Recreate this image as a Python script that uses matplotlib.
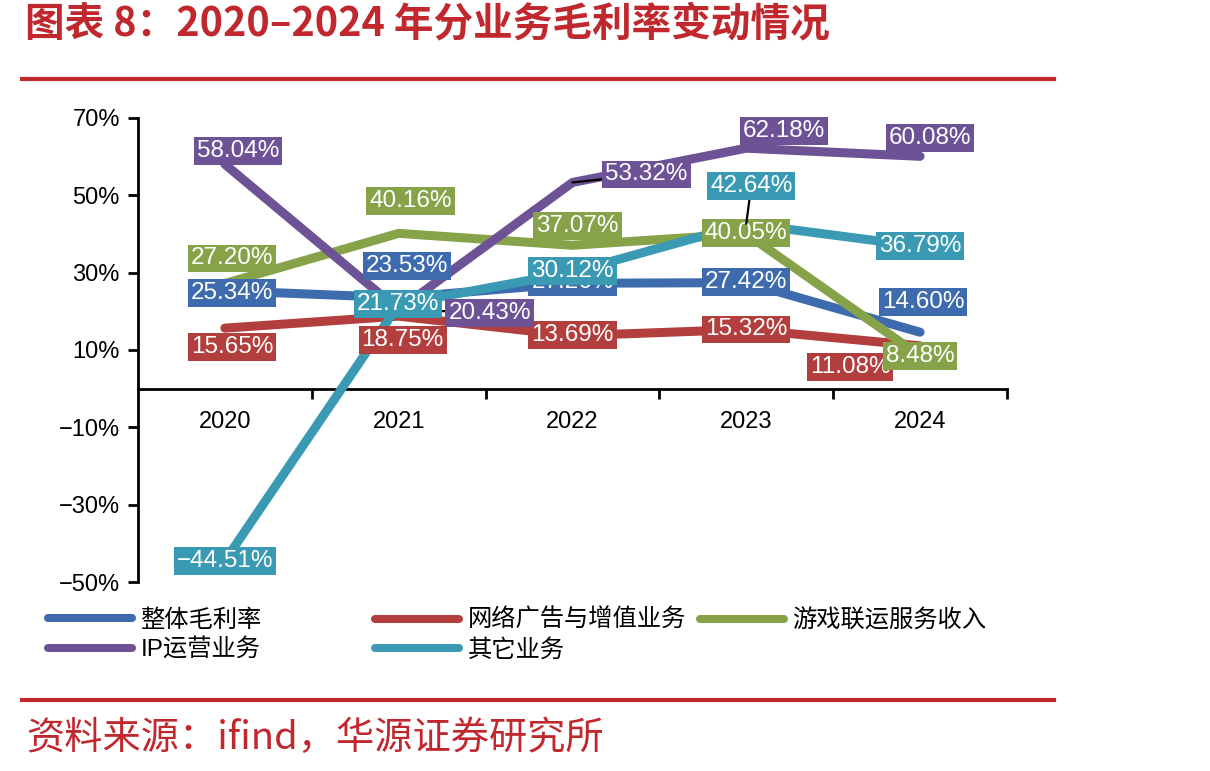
import matplotlib
matplotlib.use("Agg")
import matplotlib.pyplot as plt
from matplotlib.lines import Line2D

plt.rcParams["font.family"] = ["Liberation Sans", "Noto Sans CJK SC"]
plt.rcParams["axes.unicode_minus"] = True

# 数据（%）
years = ["2020", "2021", "2022", "2023", "2024"]
series_names = ["整体毛利率", "网络广告与增值业务", "游戏联运服务收入", "IP运营业务", "其它业务"]
overall = [25.34, 23.53, 27.26, 27.42, 14.60]
ads = [15.65, 18.75, 13.69, 15.32, 11.08]
games = [27.20, 40.16, 37.07, 40.05, 8.48]
ip_ops = [58.04, 20.43, 53.32, 62.18, 60.08]
others = [-44.51, 21.73, 30.12, 42.64, 36.79]
yticks = [-50, -30, -10, 10, 30, 50, 70]

COLORS = ["#3E6BAD", "#B23F3D", "#86A34A", "#6D5296", "#3A9AB4"]
RED = "#C0282E"

# 标签偏移（像素）
OFFSETS = [
    [(7, -2), (8, 32), (0, 1), (0, 1), (3, 30)],
    [(7, -19), (4, -24), (0, 1), (0, 0), (-70, -21)],
    [(7, 25), (12, 32), (5, 19), (0, 1), (0, 0)],
    [(13, 13), (91, -3), (74, 8), (38, 17), (10, 18)],
    [(0, 0), (-1, 1), (0, 1), (5, 38), (0, 0)],
]
LEADERS = {(3, 1), (3, 2), (4, 3)}


def fmt_pct(v):
    return f"{v:.2f}%".replace("-", "\u2212")


def main():
    fig = plt.figure(figsize=(12.1, 7.71), dpi=100)
    ax = fig.add_axes([0.1140, 0.2451, 0.7182, 0.6019])

    data = [overall, ads, games, ip_ops, others]
    x = list(range(len(years)))
    handles = []
    for i, (vals, c) in enumerate(zip(data, COLORS)):
        ax.plot(x, vals, color=c, lw=6.5, solid_capstyle="round",
                solid_joinstyle="round", zorder=2 + i)
        handles.append(Line2D([], [], color=c, lw=5.8, solid_capstyle="round"))

    for i, (vals, c) in enumerate(zip(data, COLORS)):
        for j, v in enumerate(vals):
            dx, dy = OFFSETS[i][j]
            kw = {}
            if (i, j) in LEADERS:
                kw["arrowprops"] = dict(arrowstyle="-", color="black", lw=1.6,
                                        shrinkA=0, shrinkB=0)
            ax.annotate(fmt_pct(v), (j, v), xytext=(dx, dy), textcoords="offset pixels",
                        ha="center", va="center", fontsize=17.5, color="white",
                        bbox=dict(boxstyle="square,pad=0.12", fc=c, ec="none"),
                        zorder=10 + i, **kw)

    ax.set_xlim(-0.5, 4.5)
    ax.set_ylim(-50, 70)
    ax.spines["top"].set_visible(False)
    ax.spines["right"].set_visible(False)
    ax.spines["bottom"].set_position(("data", 0))
    ax.spines["left"].set_linewidth(2)
    ax.spines["bottom"].set_linewidth(2)

    ax.set_yticks(yticks)
    ax.set_yticklabels([fmt_pct(t).replace(".00", "") for t in yticks])
    ax.tick_params(axis="y", length=7, width=2, labelsize=17, pad=6)
    ax.set_xticks(x)
    ax.set_xticklabels(years)
    ax.set_xticks([k + 0.5 for k in x], minor=True)
    ax.tick_params(axis="x", which="major", length=0, labelsize=17, pad=16)
    ax.tick_params(axis="x", which="minor", length=7, width=2, direction="out")

    # 图例（三列，固定位置）
    leg_kw = dict(loc="upper left", bbox_transform=fig.transFigure, frameon=False,
                  fontsize=17.5, handlelength=3.45, handletextpad=0.35,
                  labelspacing=0.27, borderpad=0, borderaxespad=0)
    fig.legend([handles[0], handles[3]], [series_names[0], series_names[3]],
               bbox_to_anchor=(0.0397, 0.210), **leg_kw)
    fig.legend([handles[1], handles[4]], [series_names[1], series_names[4]],
               bbox_to_anchor=(0.310, 0.210), **leg_kw)
    fig.legend([handles[2]], [series_names[2]],
               bbox_to_anchor=(0.5785, 0.210), **leg_kw)

    # 标题、分隔线、来源
    fig.text(25 / 1210, 1 - 24 / 771, "图表 8：2020–2024 年分业务毛利率变动情况",
             family=["Noto Sans CJK SC"], fontweight="bold", fontsize=28.5,
             color=RED, va="center", ha="left")
    for yy in (79, 700):
        fig.add_artist(Line2D([22 / 1210, 1054 / 1210], [1 - yy / 771] * 2,
                              transform=fig.transFigure, color=RED, lw=3))
    fig.text(26 / 1210, 1 - 738 / 771, "资料来源：ifind，华源证券研究所",
             family=["Noto Sans CJK SC"], fontsize=27.5, color=RED,
             va="center", ha="left")

    fig.savefig("out.png", dpi=100)
    plt.close(fig)


if __name__ == "__main__":
    main()
